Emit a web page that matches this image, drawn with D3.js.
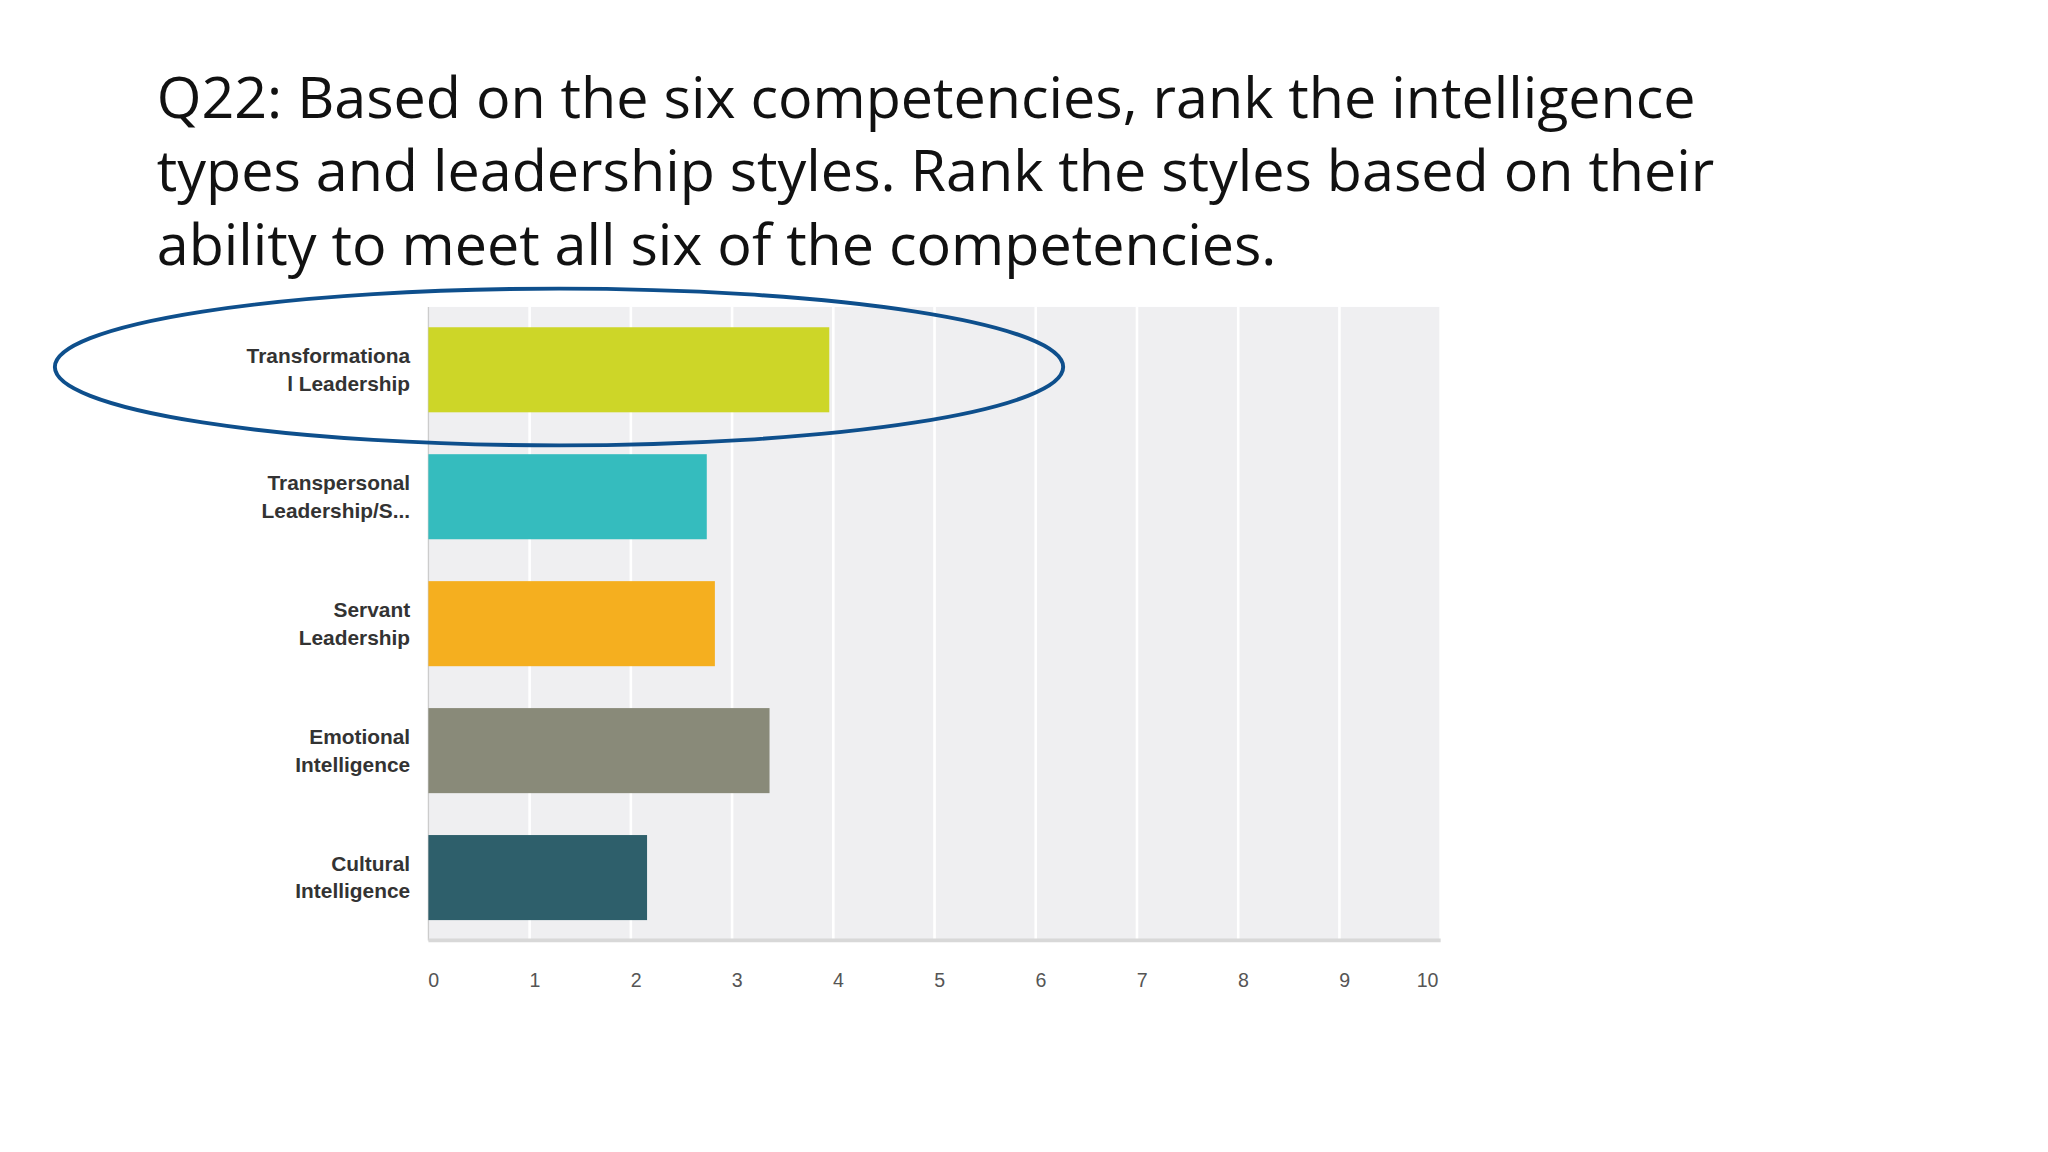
<!DOCTYPE html>
<html><head><meta charset="utf-8">
<script src="https://d3js.org/d3.v7.min.js"></script>
<style>body{margin:0;background:#fff}svg{display:block}</style>
</head><body>
<script>
const titleLines = ["Q22: Based on the six competencies, rank the intelligence",
  "types and leadership styles.  Rank the styles based on their",
  "ability to meet all six of the competencies."];
const categories = [["Transformationa","l Leadership"],["Transpersonal","Leadership/S..."],["Servant","Leadership"],["Emotional","Intelligence"],["Cultural","Intelligence"]];
const values = [3.96, 2.75, 2.83, 3.37, 2.16];
const colors = ["#cdd628","#35bcbe","#f5af1f","#898a79","#2e5f6b"];
const ticks = [0,1,2,3,4,5,6,7,8,9,10];

const svg = d3.select("body").append("svg").attr("width",2048).attr("height",1152)
  .attr("viewBox","0 0 1568 882");
svg.append("g").selectAll("text").data(titleLines).join("text")
  .attr("x",120).attr("y",(d,i)=>90+i*56.5).attr("font-family","'Open Sans', sans-serif")
  .attr("font-size",44).attr("fill","#111").text(d=>d);

const x = d3.scaleLinear().domain([0,10]).range([328,1103]);
const y = d3.scaleBand().domain(d3.range(categories.length)).range([235,720]).paddingInner(0.33).paddingOuter(0.16);
svg.append("rect").attr("x",x(0)).attr("y",235).attr("width",x(10)-x(0)).attr("height",485).attr("fill","#efeff1");
svg.append("g").selectAll("line").data(ticks.slice(1)).join("line")
  .attr("x1",d=>x(d)).attr("x2",d=>x(d)).attr("y1",235).attr("y2",720).attr("stroke","#fff").attr("stroke-width",2);
svg.append("line").attr("x1",x(0)).attr("x2",x(0)).attr("y1",235).attr("y2",720).attr("stroke","#ccc");
svg.append("line").attr("x1",x(0)).attr("x2",x(10)).attr("y1",720).attr("y2",720).attr("stroke","#d8d8d8").attr("stroke-width",3);
svg.append("g").selectAll("rect").data(values).join("rect")
  .attr("x",x(0)).attr("y",(d,i)=>y(i)).attr("width",d=>x(d)-x(0)).attr("height",y.bandwidth()).attr("fill",(d,i)=>colors[i]);
const lab = svg.append("g").selectAll("text").data(categories).join("text")
  .attr("text-anchor","end").attr("font-family","'Liberation Sans', Arial, sans-serif").attr("font-weight","bold")
  .attr("font-size",16).attr("fill","#333");
lab.each(function(d,i){
  const t=d3.select(this);
  d.forEach((s,j)=>t.append("tspan").attr("x",314).attr("y",y(i)+y.bandwidth()/2-5+j*21).text(s));
});
svg.append("g").selectAll("text").data(ticks).join("text")
  .attr("x",d=>x(d)+(d===10?-10:4)).attr("y",756).attr("text-anchor","middle")
  .attr("font-family","'Liberation Sans', Arial, sans-serif").attr("font-size",15).attr("fill","#555").text(d=>d);
svg.append("ellipse").attr("cx",428).attr("cy",281).attr("rx",386).attr("ry",60)
  .attr("fill","none").attr("stroke","#0e4f8c").attr("stroke-width",3);
</script>
</body></html>
